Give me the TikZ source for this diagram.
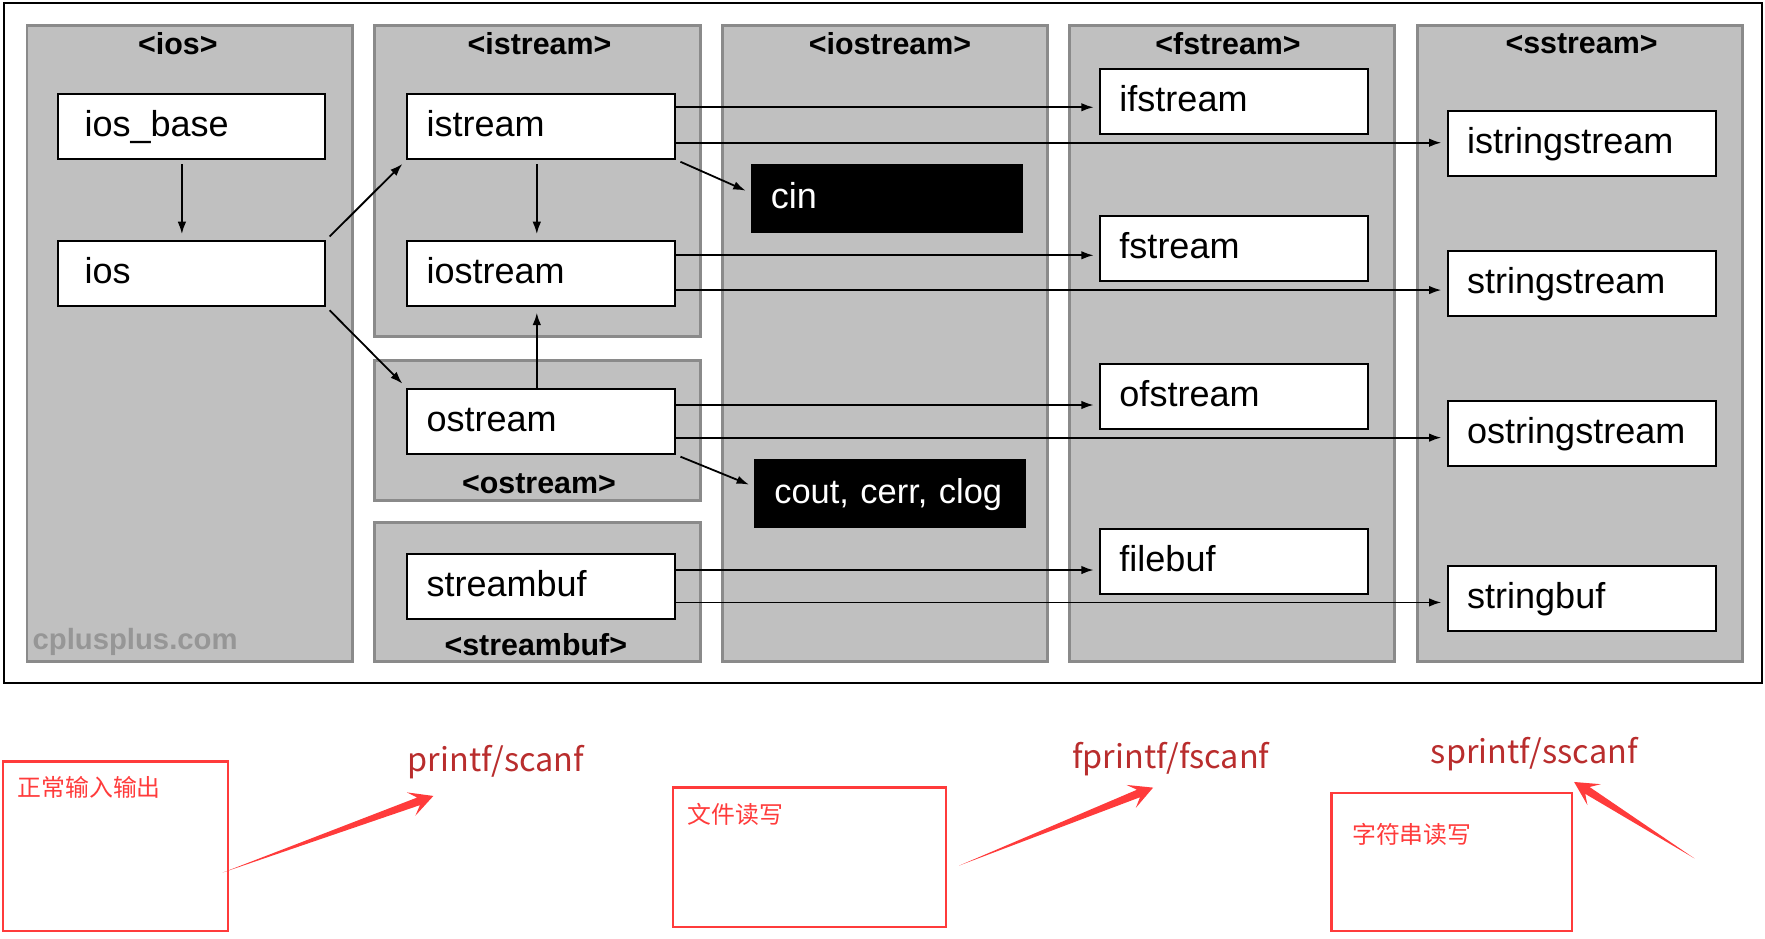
\documentclass[tikz,border=0pt]{standalone}
\usepackage{fontspec}
\setmainfont{Liberation Sans}
\newfontfamily\cjkfont{Noto Sans CJK SC}
\usetikzlibrary{arrows.meta,calc}
\definecolor{grpfill}{RGB}{192,192,192}
\definecolor{grpline}{RGB}{138,138,138}
\definecolor{annred}{RGB}{255,59,59}
\definecolor{fnred}{RGB}{185,45,45}
\definecolor{wmgray}{RGB}{150,150,150}
\newcommand\redarrow[3]{%
  \coordinate (#1p) at ($(#3)!7pt!(#2)$);
  \coordinate (#1q) at ($(#3)!10.5pt!(#2)$);
  \fill[annred] (#2) -- ($(#1p)!1.8pt!90:(#3)$) -- ($(#1q)!5.5pt!90:(#3)$) -- (#3)
     -- ($(#1q)!5.5pt!-90:(#3)$) -- ($(#1p)!1.8pt!-90:(#3)$) -- cycle;
}
\begin{document}
\begin{tikzpicture}[x=0.5pt,y=-0.5pt,
  grp/.style={draw=grpline,fill=grpfill,line width=1.3pt},
  cls/.style={draw=black,fill=white,line width=0.9pt,anchor=north west,
    inner xsep=8.5pt,inner ysep=0pt,text width=102pt,minimum height=29pt,
    align=left,text height=12pt,text depth=3pt,font=\fontsize{16}{19}\selectfont},
  clsw/.style={cls,inner xsep=12pt,text width=95pt},
  obj/.style={cls,fill=black,text=white,text width=102.8pt,minimum height=29.5pt},
  ttl/.style={font=\bfseries\fontsize{13.5}{16}\selectfont,inner sep=0pt},
  arr/.style={-{Latex[length=5.5pt,width=3.8pt]},line width=0.8pt,shorten >=2.5pt},
  redbox/.style={draw=annred,line width=1pt},
  fn/.style={text=fnred,font=\cjkfont\fontsize{14.4}{17}\selectfont,inner sep=0pt},
  cn/.style={text=annred,font=\cjkfont\fontsize{10.6}{12}\selectfont,anchor=west,inner sep=0pt}]
\useasboundingbox (0,0) rectangle (1568,834);
% outer frame
\draw[line width=1pt] (3.5,2.5) rectangle (1565,606.5);
% groups
\draw[grp] (24,23) rectangle (313,588);
\draw[grp] (333,23) rectangle (622,299);
\draw[grp] (333,320.5) rectangle (622,444.5);
\draw[grp] (333,464.5) rectangle (622,588);
\draw[grp] (641.5,23) rectangle (930.5,588);
\draw[grp] (950.5,23) rectangle (1239,588);
\draw[grp] (1259,23) rectangle (1548,588);
% titles
\node[ttl] (t-ios) at (158,38.5) {<ios>};
\node[ttl] (t-istream) at (479.3,38.5) {<istream>};
\node[ttl] (t-iostream) at (790.7,38.5) {<iostream>};
\node[ttl] (t-fstream) at (1091,38.5) {<fstream>};
\node[ttl] (t-sstream) at (1405,38.5) {<sstream>};
\node[ttl] (t-ostream) at (478.8,430) {<ostream>};
\node[ttl] (t-streambuf) at (476,573) {<streambuf>};
\node[anchor=west,inner sep=0pt,text=wmgray,font=\bfseries\fontsize{13}{15}\selectfont] (wm) at (28.6,570.7) {cplusplus.com};
% class boxes
\node[clsw] (iosbase) at (50.2,82.3) {ios\_base};
\node[clsw] (ios) at (50.2,213) {ios};
\node[cls] (istream) at (361,82.3) {istream};
\node[cls] (iostream) at (361,213) {iostream};
\node[cls] (ostream) at (361,344.4) {ostream};
\node[cls] (streambuf) at (361,491) {streambuf};
\node[obj] (cin) at (667,146) {cin};
\node[obj,font=\fontsize{15.3}{18}\selectfont] (cout) at (670,408) {cout, cerr, clog};
\node[cls] (ifstream) at (976.6,60) {ifstream};
\node[cls] (fstream) at (976.6,191) {fstream};
\node[cls] (ofstream) at (976.6,322.2) {ofstream};
\node[cls] (filebuf) at (976.6,468.8) {filebuf};
\node[cls] (istringstream) at (1285.5,97.7) {istringstream};
\node[cls] (stringstream) at (1285.5,222) {stringstream};
\node[cls] (ostringstream) at (1285.5,355.3) {ostringstream};
\node[cls] (stringbuf) at (1285.5,502) {stringbuf};
% y levels of horizontal connectors
\coordinate (y1) at (0,95.3);
\coordinate (y2) at (0,126.8);
\coordinate (y3) at (0,226.8);
\coordinate (y4) at (0,257.7);
\coordinate (y5) at (0,359.8);
\coordinate (y6) at (0,388.8);
\coordinate (y7) at (0,506.4);
\coordinate (y8) at (0,535.2);
\draw[arr] (istream.east |- y1) -- (ifstream.west |- y1);
\draw[arr] (istream.east |- y2) -- (istringstream.west |- y2);
\draw[arr] (iostream.east |- y3) -- (fstream.west |- y3);
\draw[arr] (iostream.east |- y4) -- (stringstream.west |- y4);
\draw[arr] (ostream.east |- y5) -- (ofstream.west |- y5);
\draw[arr] (ostream.east |- y6) -- (ostringstream.west |- y6);
\draw[arr] (streambuf.east |- y7) -- (filebuf.west |- y7);
\draw[arr] (streambuf.east |- y8) -- (stringbuf.west |- y8);
% vertical connectors
\draw[arr,shorten <=2pt] ([xshift=-4.25pt]iosbase.south) -- ([xshift=-4.25pt]ios.north);
\draw[arr,shorten <=2pt] ([xshift=-2pt]istream.south) -- ([xshift=-2pt]iostream.north);
\draw[arr] ([xshift=-2pt]ostream.north) -- ([xshift=-2pt]iostream.south);
% diagonal connectors
\draw[arr,shorten <=2pt] (ios.north east) -- (istream.south west);
\draw[arr,shorten <=2pt] (ios.south east) -- (ostream.north west);
\draw[arr,shorten <=2pt] (istream.south east) -- ([yshift=2.5pt]cin.west);
\draw[arr,shorten <=2pt] (ostream.south east) -- ([yshift=3pt]cout.west);
% annotations
\draw[redbox] (2.5,676.6) rectangle (202.4,826.8);
\draw[redbox] (597.6,699.7) rectangle (840.4,823.5);
\draw[redbox] (1182.8,704.7) rectangle (1396.5,826.8);
\node[cn] (c1) at (15.3,699.4) {正常输入输出};
\node[cn] (c2) at (610.8,723.4) {文件读写};
\node[cn] (c3) at (1200.9,740.9) {字符串读写};
\node[fn] (f1) at (440.5,677.4) {printf/scanf};
\node[fn] (f2) at (1040.2,674) {fprintf/fscanf};
\node[fn] (f3) at (1363,669.6) {sprintf/sscanf};
\coordinate (a1t) at (197.8,775.2);
\coordinate (a1h) at (385,707.1);
\coordinate (a2t) at (852,769);
\coordinate (a2h) at (1024.4,699.7);
\coordinate (a3t) at (1505.2,762.5);
\coordinate (a3h) at (1398.4,694.7);
\redarrow{a1}{a1t}{a1h}
\redarrow{a2}{a2t}{a2h}
\redarrow{a3}{a3t}{a3h}
\end{tikzpicture}
\end{document}
